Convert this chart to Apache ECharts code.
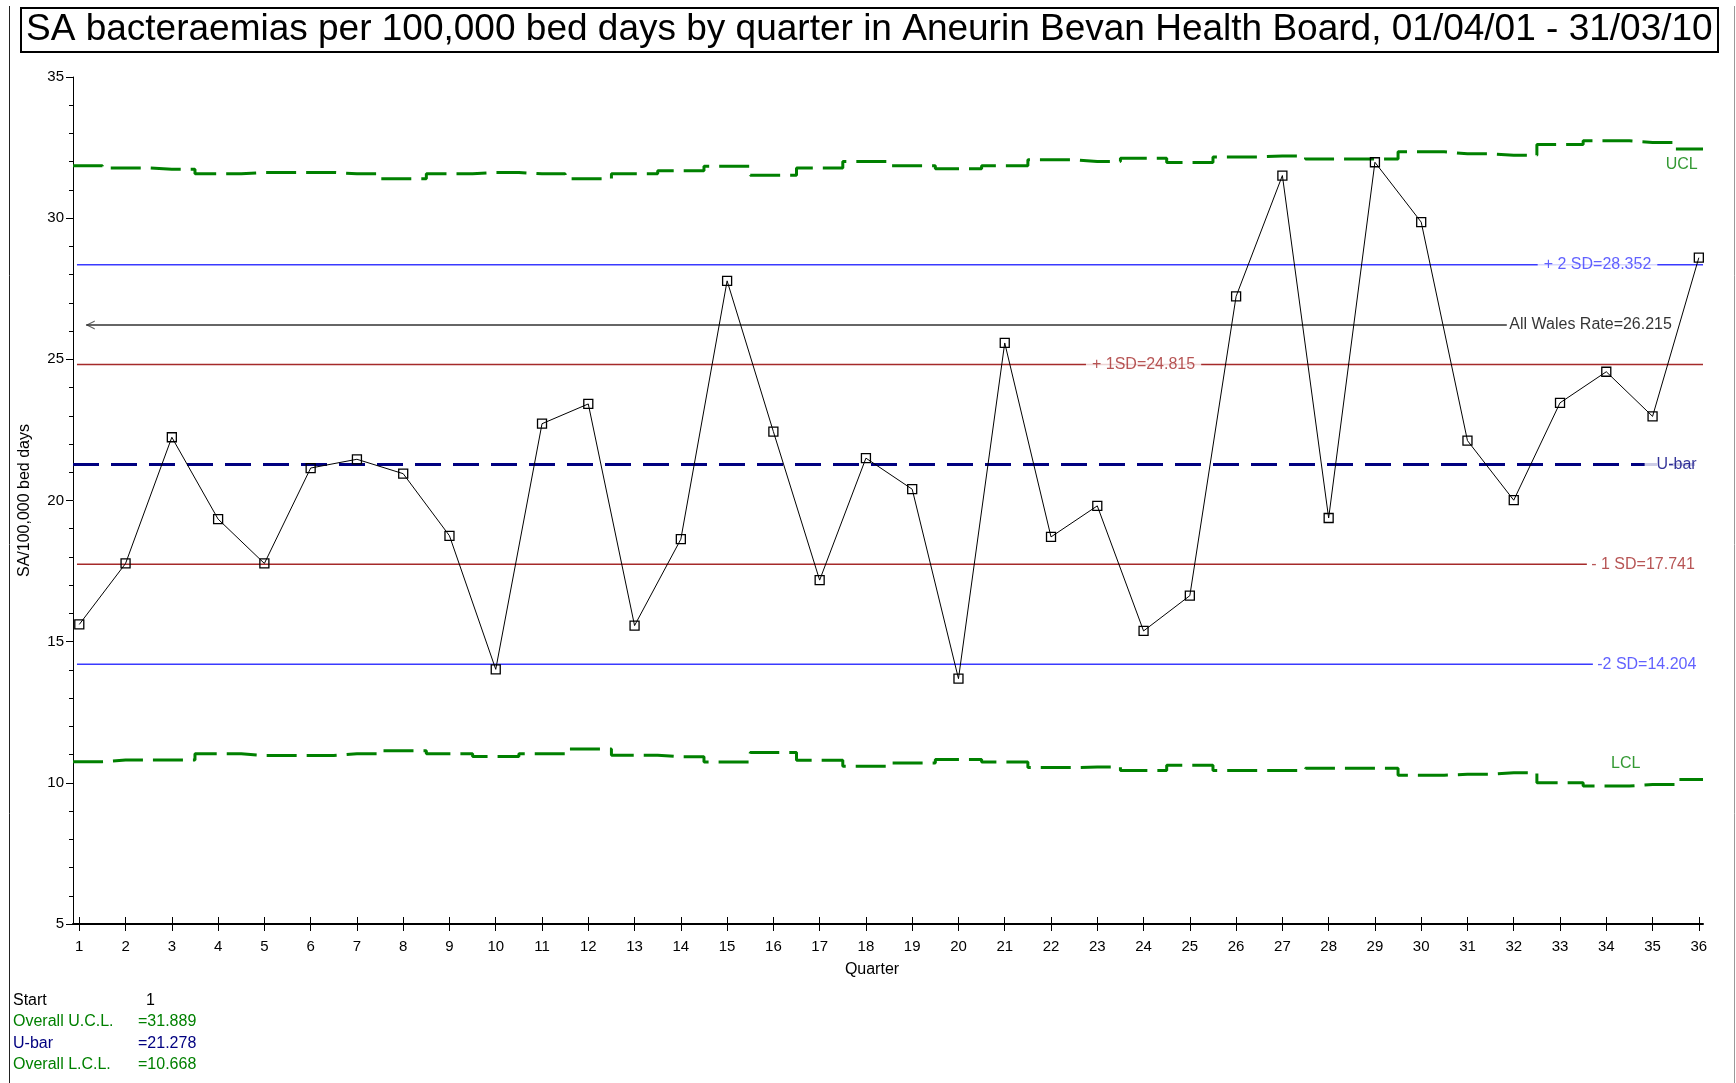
<!DOCTYPE html>
<html>
<head>
<meta charset="utf-8">
<title>SA bacteraemias per 100,000 bed days</title>
<script src="https://cdn.jsdelivr.net/npm/echarts@6/dist/echarts.min.js"></script>
<style>
    html, body { margin: 0; padding: 0; background: #fff; }
    #chart { width: 1736px; height: 1083px; }
</style>
</head>
<body>
<div id="chart"></div>
<script>
// quarters 1..36 (01/04/01 - 31/03/10)
var quarters = [1, 2, 3, 4, 5, 6, 7, 8, 9, 10, 11, 12, 13, 14, 15, 16, 17, 18,
    19, 20, 21, 22, 23, 24, 25, 26, 27, 28, 29, 30, 31, 32, 33, 34, 35, 36];

// SA bacteraemias per 100,000 bed days
var rate = [15.61, 17.77, 22.24, 19.34, 17.77, 21.15, 21.46, 20.95, 18.75, 14.02,
    22.72, 23.42, 15.57, 18.63, 27.78, 22.44, 17.18, 21.50, 20.40, 13.69,
    25.58, 18.71, 19.81, 15.38, 16.63, 27.23, 31.51, 19.38, 31.98, 29.86,
    22.12, 20.01, 23.46, 24.56, 22.98, 28.60];

// control limits per quarter
var ucl = [31.86, 31.78, 31.73, 31.57, 31.62, 31.62, 31.57, 31.40, 31.57, 31.62,
    31.57, 31.40, 31.57, 31.68, 31.84, 31.52, 31.78, 32.01, 31.86, 31.75,
    31.86, 32.07, 32.01, 32.12, 31.97, 32.17, 32.20, 32.10, 32.10, 32.35,
    32.28, 32.23, 32.61, 32.74, 32.68, 32.45];
var lcl = [10.75, 10.81, 10.81, 11.03, 10.97, 10.97, 11.03, 11.14, 11.03, 10.93,
    11.03, 11.20, 10.98, 10.92, 10.74, 11.07, 10.80, 10.59, 10.70, 10.83,
    10.74, 10.54, 10.56, 10.44, 10.62, 10.44, 10.44, 10.52, 10.52, 10.27,
    10.30, 10.36, 10.00, 9.89, 9.94, 10.12];

// reference lines
var uBar = 21.278;
var plus2sd = 28.352;
var plus1sd = 24.815;
var minus1sd = 17.741;
var minus2sd = 14.204;
var allWales = 26.215;
var overallUcl = 31.889;
var overallLcl = 10.668;

// tick labels
var xTicks = quarters;
var yTicks = [5, 10, 15, 20, 25, 30, 35];

var FONT = 'Liberation Sans, Arial, sans-serif';
var GREEN = '#008000';
var NAVY = '#000080';
var BLUE = '#3a3aff';
var RED = '#a52a2a';

var xMin = 0.864, xMax = 36.09;

function pairs(xs, ys) {
    return xs.map(function (x, i) { return [x, ys[i]]; });
}
// step lines run the full width of the axis
function stepData(vals) {
    return [[xMin, vals[0]]].concat(pairs(quarters, vals)).concat([[xMax, vals[vals.length - 1]]]);
}
function hLine(name, v, x0, x1, color, width, type) {
    return {
        name: name, type: 'line', data: [[x0, v], [x1, v]],
        symbol: 'none', silent: true, z: 2,
        lineStyle: { color: color, width: width, type: type || 'solid' }
    };
}
function lbl(x, y, text, color, opts) {
    opts = opts || {};
    return {
        value: [x, y],
        label: {
            show: true, formatter: text, color: color, fontSize: 16, fontFamily: FONT,
            position: opts.position || 'inside', distance: 2,
            backgroundColor: opts.mask ? '#fff' : 'transparent',
            padding: opts.mask ? [3, opts.mask] : 0
        }
    };
}

var myChart = echarts.init(document.getElementById('chart'));

var option = {
    animation: false,
    backgroundColor: '#fff',
    title: {
        text: 'SA bacteraemias per 100,000 bed days by quarter in Aneurin Bevan Health Board, 01/04/01 - 31/03/10',
        left: 21,
        top: 8,
        padding: [3, 6, 3, 5],
        borderColor: '#000',
        borderWidth: 2,
        textStyle: { fontSize: 37, lineHeight: 38, fontWeight: 'normal', color: '#000', fontFamily: FONT }
    },
    grid: { left: 73, right: 33, top: 77, bottom: 159 },
    xAxis: [
        {
            type: 'value', min: xMin, max: xMax,
            name: 'Quarter', nameLocation: 'middle', nameGap: 38,
            nameTextStyle: { fontSize: 16, color: '#000', fontFamily: FONT, padding: [0, 32, 0, 0] },
            axisLine: { lineStyle: { color: '#000', width: 2 } },
            axisTick: { customValues: xTicks, length: 7, lineStyle: { color: '#000' } },
            axisLabel: { customValues: xTicks, margin: 15, fontSize: 15, color: '#000', fontFamily: FONT },
            splitLine: { show: false }
        },
        {
            // ticks crossing the axis (inner half)
            type: 'value', min: xMin, max: xMax, position: 'bottom',
            axisLine: { show: false },
            axisTick: { customValues: xTicks, inside: true, length: 7, lineStyle: { color: '#000' } },
            axisLabel: { show: false },
            splitLine: { show: false }
        }
    ],
    yAxis: {
        type: 'value', min: 5, max: 35, interval: 5,
        name: 'SA/100,000 bed days', nameLocation: 'middle', nameGap: 40,
        nameTextStyle: { fontSize: 16, color: '#000', fontFamily: FONT },
        axisLine: { show: true, lineStyle: { color: '#000', width: 1 } },
        axisTick: { show: true, length: 7, lineStyle: { color: '#000' } },
        minorTick: { show: true, splitNumber: 5, length: 4, lineStyle: { color: '#000' } },
        axisLabel: {
            margin: 9, fontSize: 15, color: '#000', fontFamily: FONT,
            formatter: function (v) { return yTicks.indexOf(v) >= 0 ? v : ''; }
        },
        splitLine: { show: false }
    },
    series: [
        {
            name: 'UCL', type: 'line', step: 'middle', data: stepData(ucl),
            symbol: 'none', silent: true, z: 3,
            lineStyle: { color: GREEN, width: 3, type: [30, 10] }
        },
        {
            name: 'LCL', type: 'line', step: 'middle', data: stepData(lcl),
            symbol: 'none', silent: true, z: 3,
            lineStyle: { color: GREEN, width: 3, type: [30, 10] }
        },
        hLine('+2 SD', plus2sd, 0.95, xMax, BLUE, 1.5),
        hLine('All Wales', allWales, 1.15, 31.85, '#333', 1.5),
        hLine('+1 SD', plus1sd, 0.95, xMax, RED, 1.5),
        hLine('U-bar', uBar, xMin, xMax, NAVY, 3, [26, 12]),
        hLine('-1 SD', minus1sd, 0.95, 33.58, RED, 1.5),
        hLine('-2 SD', minus2sd, 0.95, 33.71, BLUE, 1.5),
        {
            // arrow head on the All Wales line
            name: 'arrow', type: 'scatter', silent: true, z: 4,
            data: [[1.15, allWales]],
            symbol: 'path://M10,0 L0,5 L10,10 L10,8.6 L2.6,5 L10,1.4 Z',
            symbolSize: [9, 9], symbolOffset: [4, 0],
            itemStyle: { color: '#333' }
        },
        {
            name: 'labels', type: 'scatter', silent: true, z: 5,
            symbolSize: 1, itemStyle: { color: 'transparent' },
            data: [
                lbl(33.81, plus2sd, '+ 2 SD=' + plus2sd.toFixed(3), BLUE, { mask: 6 }),
                lbl(31.85, allWales, 'All Wales Rate=' + allWales.toFixed(3), '#000', { position: 'right' }),
                lbl(24.0, plus1sd, '+ 1SD=' + plus1sd.toFixed(3), RED, { mask: 6 }),
                lbl(35.52, uBar, 'U-bar', NAVY, { mask: 12 }),
                lbl(33.62, minus1sd, '- 1 SD=' + minus1sd.toFixed(3), RED, { position: 'right' }),
                lbl(33.75, minus2sd, '-2 SD=' + minus2sd.toFixed(3), BLUE, { position: 'right' }),
                lbl(35.63, 31.9, 'UCL', GREEN),
                lbl(34.42, 10.69, 'LCL', GREEN)
            ]
        },
        {
            name: 'SA rate', type: 'line', data: pairs(quarters, rate), z: 10,
            symbol: 'rect', symbolSize: 9,
            lineStyle: { color: '#000', width: 1 },
            itemStyle: { color: 'rgba(0,0,0,0)', borderColor: '#000', borderWidth: 1.3 }
        }
    ],
    graphic: [
        // frame
        { type: 'line', shape: { x1: 9.5, y1: 6, x2: 9.5, y2: 1083 }, style: { stroke: '#222', lineWidth: 1 } },
        { type: 'line', shape: { x1: 1734.5, y1: 6, x2: 1734.5, y2: 1083 }, style: { stroke: '#999', lineWidth: 1 } },
        // summary
        { type: 'text', left: 13, top: 993, style: { text: 'Start', fill: '#000', font: '16px ' + FONT } },
        { type: 'text', left: 146, top: 993, style: { text: '1', fill: '#000', font: '16px ' + FONT } },
        { type: 'text', left: 13, top: 1014, style: { text: 'Overall U.C.L.', fill: GREEN, font: '16px ' + FONT } },
        { type: 'text', left: 138, top: 1014, style: { text: '=' + overallUcl.toFixed(3), fill: GREEN, font: '16px ' + FONT } },
        { type: 'text', left: 13, top: 1036, style: { text: 'U-bar', fill: NAVY, font: '16px ' + FONT } },
        { type: 'text', left: 138, top: 1036, style: { text: '=' + uBar.toFixed(3), fill: NAVY, font: '16px ' + FONT } },
        { type: 'text', left: 13, top: 1057, style: { text: 'Overall L.C.L.', fill: GREEN, font: '16px ' + FONT } },
        { type: 'text', left: 138, top: 1057, style: { text: '=' + overallLcl.toFixed(3), fill: GREEN, font: '16px ' + FONT } }
    ]
};

myChart.setOption(option);
</script>
</body>
</html>
